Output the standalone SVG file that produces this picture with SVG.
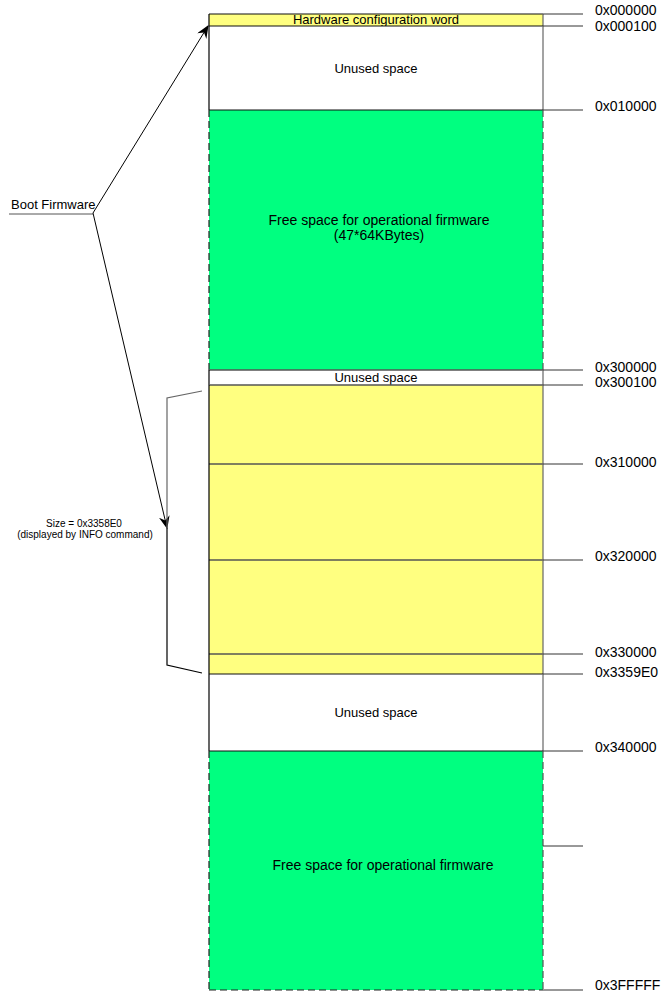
<svg xmlns="http://www.w3.org/2000/svg" width="663" height="994" viewBox="0 0 663 994">
<style>
text{font-family:"Liberation Sans",Arial,sans-serif;fill:#000}
.t13{font-size:13px;text-anchor:middle}
.t14{font-size:14px;text-anchor:middle}
.lbl{font-size:14px}
.small{font-size:10px;text-anchor:middle}
.yel{fill:#FFFF80}
.grn{fill:#00FF80}
.wht{fill:#FFFFFF}
.edgeL{stroke:#000;stroke-width:1.2}
.edgeR{stroke:#666;stroke-width:1.2}
.dashL{stroke:#222;stroke-width:1.2;stroke-dasharray:7 4}
.dashR{stroke:#555;stroke-width:1.2;stroke-dasharray:7 4}
.sep{stroke:#111;stroke-width:1.2}
.sepg{stroke:#555;stroke-width:1.5}
.tick{stroke:#333;stroke-width:1}
.conn{stroke:#000;stroke-width:1;fill:none}
</style>
<defs>
<marker id="arr" viewBox="0 0 12 10" refX="11" refY="5" markerWidth="13" markerHeight="11" markerUnits="userSpaceOnUse" orient="auto">
<path d="M0,0 L12,5 L0,10 L4,5 z" fill="#000"/>
</marker>
</defs>
<rect width="663" height="994" fill="#fff"/>

<g id="hw-config">
<rect x="209" y="14" width="334" height="12" class="yel"/>
<line x1="209" y1="14" x2="543" y2="14" class="sep"/>
<line x1="209" y1="14" x2="209" y2="26" class="edgeL"/>
<line x1="543" y1="14" x2="543" y2="26" class="edgeR"/>
<text x="376" y="24" class="t13">Hardware configuration word</text>
</g>

<g id="unused-1">
<rect x="209" y="26" width="334" height="84" class="wht"/>
<line x1="209" y1="26" x2="543" y2="26" class="sep"/>
<line x1="209" y1="26" x2="209" y2="110" class="edgeL"/>
<line x1="543" y1="26" x2="543" y2="110" class="edgeR"/>
<text x="376" y="73" class="t13">Unused space</text>
</g>

<g id="free-space-1">
<rect x="209" y="110" width="334" height="260" class="grn"/>
<line x1="209" y1="110" x2="543" y2="110" class="sep"/>
<line x1="209" y1="110" x2="209" y2="370" class="dashL"/>
<line x1="543" y1="110" x2="543" y2="370" class="dashR"/>
<text x="379" y="225" class="t14">Free space for operational firmware</text>
<text x="379" y="240" class="t14">(47*64KBytes)</text>
</g>

<g id="unused-2">
<rect x="209" y="370" width="334" height="15" class="wht"/>
<line x1="209" y1="370" x2="543" y2="370" class="sepg"/>
<line x1="209" y1="370" x2="209" y2="385" class="edgeL"/>
<line x1="543" y1="370" x2="543" y2="385" class="edgeR"/>
<text x="376" y="382" class="t13">Unused space</text>
</g>

<g id="boot-image">
<rect x="209" y="385" width="334" height="289" class="yel"/>
<line x1="209" y1="385" x2="543" y2="385" class="sepg"/>
<line x1="209" y1="464" x2="543" y2="464" class="sepg"/>
<line x1="209" y1="560" x2="543" y2="560" class="sepg"/>
<line x1="209" y1="654" x2="543" y2="654" class="sepg"/>
<line x1="209" y1="385" x2="209" y2="674" class="edgeL"/>
<line x1="543" y1="385" x2="543" y2="674" class="edgeR"/>
</g>

<g id="unused-3">
<rect x="209" y="674" width="334" height="77" class="wht"/>
<line x1="209" y1="674" x2="543" y2="674" class="sep"/>
<line x1="209" y1="674" x2="209" y2="751" class="edgeL"/>
<line x1="543" y1="674" x2="543" y2="751" class="edgeR"/>
<text x="376" y="717" class="t13">Unused space</text>
</g>

<g id="free-space-2">
<rect x="209" y="751" width="334" height="239" class="grn"/>
<line x1="209" y1="751" x2="543" y2="751" class="sep"/>
<line x1="209" y1="751" x2="209" y2="990" class="dashL"/>
<line x1="543" y1="751" x2="543" y2="990" class="dashR"/>
<line x1="209" y1="990" x2="543" y2="990" class="dashL"/>
<text x="383" y="870" class="t14">Free space for operational firmware</text>
</g>

<g id="addresses">
<line x1="543" y1="14" x2="583" y2="14" class="tick"/>
<text x="595" y="15" class="lbl">0x000000</text>
<line x1="543" y1="26" x2="583" y2="26" class="tick"/>
<text x="595" y="31" class="lbl">0x000100</text>
<line x1="543" y1="110" x2="583" y2="110" class="tick"/>
<text x="595" y="111" class="lbl">0x010000</text>
<line x1="543" y1="370" x2="583" y2="370" class="tick"/>
<text x="595" y="372" class="lbl">0x300000</text>
<line x1="543" y1="385" x2="583" y2="385" class="tick"/>
<text x="595" y="387" class="lbl">0x300100</text>
<line x1="543" y1="464" x2="583" y2="464" class="tick"/>
<text x="595" y="467" class="lbl">0x310000</text>
<line x1="543" y1="560" x2="583" y2="560" class="tick"/>
<text x="595" y="561" class="lbl">0x320000</text>
<line x1="543" y1="654" x2="583" y2="654" class="tick"/>
<text x="595" y="657" class="lbl">0x330000</text>
<line x1="543" y1="674" x2="583" y2="674" class="tick"/>
<text x="595" y="677" class="lbl">0x3359E0</text>
<line x1="543" y1="751" x2="583" y2="751" class="tick"/>
<text x="595" y="752" class="lbl">0x340000</text>
<line x1="543" y1="846" x2="583" y2="846" class="tick"/>
<line x1="543" y1="990" x2="583" y2="990" class="tick"/>
<text x="595" y="990" class="lbl">0x3FFFFF</text>
</g>

<g id="boot-firmware">
<text x="11" y="209" style="font-size:13px">Boot Firmware</text>
<line x1="9" y1="214" x2="93" y2="214" stroke="#555" stroke-width="1"/>
</g>

<g id="size-label">
<text x="84" y="527" class="small">Size = 0x3358E0</text>
<text x="85" y="538" class="small">(displayed by INFO command)</text>
</g>

<g id="connectors">
<line x1="93" y1="213" x2="208" y2="26" class="conn" marker-end="url(#arr)"/>
<line x1="93" y1="213" x2="167" y2="528" class="conn" marker-end="url(#arr)"/>
<polyline points="202,391 167,398 167,528" fill="none" stroke="#666" stroke-width="1.2"/>
<polyline points="167,528 167,665 202,673" fill="none" stroke="#000" stroke-width="1.2"/>
</g>
</svg>
